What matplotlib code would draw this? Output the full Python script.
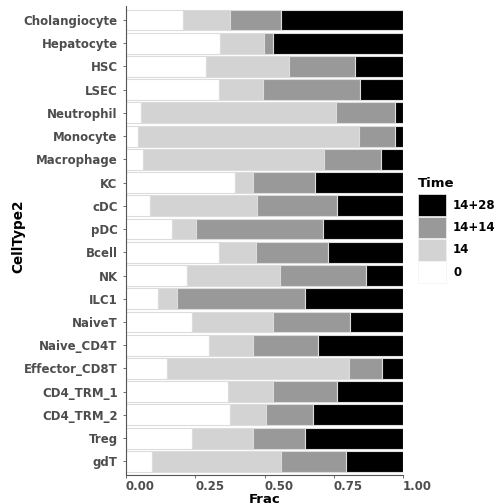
import matplotlib
matplotlib.use("Agg")
import matplotlib.pyplot as plt
from matplotlib.patches import Patch
import numpy as np

plt.rcParams['font.family'] = ['DejaVu Sans']

cell_types = ["Cholangiocyte", "Hepatocyte", "HSC", "LSEC", "Neutrophil", "Monocyte",
              "Macrophage", "KC", "cDC", "pDC", "Bcell", "NK", "ILC1", "NaiveT",
              "Naive_CD4T", "Effector_CD8T", "CD4_TRM_1", "CD4_TRM_2", "Treg", "gdT"]

# cumulative boundaries (end of 0, end of 14, end of 14+14)
t0 =    [0.207, 0.339, 0.289, 0.335, 0.055, 0.042, 0.063, 0.393, 0.087, 0.166,
         0.337, 0.219, 0.117, 0.240, 0.301, 0.149, 0.370, 0.377, 0.239, 0.093]
t14 =   [0.376, 0.499, 0.588, 0.494, 0.758, 0.841, 0.716, 0.458, 0.473, 0.251,
         0.470, 0.557, 0.184, 0.532, 0.458, 0.805, 0.532, 0.505, 0.458, 0.561]
t1414 = [0.558, 0.529, 0.826, 0.843, 0.970, 0.971, 0.920, 0.682, 0.761, 0.710,
         0.730, 0.865, 0.648, 0.808, 0.694, 0.924, 0.760, 0.676, 0.646, 0.796]

frac_0 = np.array(t0)
frac_14 = np.array(t14) - np.array(t0)
frac_1414 = np.array(t1414) - np.array(t14)
frac_1428 = 1 - np.array(t1414)

levels = ["0", "14", "14+14", "14+28"]
colors = ["#ffffff", "#d3d3d3", "#999999", "#000000"]
series = [frac_0, frac_14, frac_1414, frac_1428]

fig = plt.figure(figsize=(5.0, 5.04), dpi=100)
ax = fig.add_axes([0.252, 0.057, 0.554, 0.931])

y = np.arange(len(cell_types))
left = np.zeros(len(cell_types))
for lev, col, vals in zip(levels, colors, series):
    ax.barh(y, vals, left=left, height=0.9, color=col, edgecolor="#dcdcdc",
            linewidth=0.8, label=lev)
    left = left + vals

ax.set_xlim(0, 1)
ax.set_ylim(len(cell_types) - 0.4, -0.6)
ax.set_yticks(y)
ax.set_yticklabels(cell_types)
ax.set_xticks([0, 0.25, 0.5, 0.75, 1.0])
ax.set_xticklabels(["0.00", "0.25", "0.50", "0.75", "1.00"])

for s in ["top", "right"]:
    ax.spines[s].set_visible(False)
for s in ["left", "bottom"]:
    ax.spines[s].set_color("#555555")
    ax.spines[s].set_linewidth(0.8)

ax.tick_params(axis="both", colors="#555555", length=2.5, width=0.6, labelsize=8.5)
ax.tick_params(axis="x", pad=1)
for lab in ax.get_yticklabels() + ax.get_xticklabels():
    lab.set_fontweight("bold")
    lab.set_color("#4d4d4d")
for lab in ax.get_xticklabels():
    lab.set_horizontalalignment("left")

ax.set_xlabel("Frac", fontsize=9.5, fontweight="bold", labelpad=0)
ax.xaxis.set_label_coords(0.5, -0.037)
ax.set_ylabel("CellType2", fontsize=9.8, fontweight="bold")
ax.yaxis.set_label_coords(-0.365, 0.51)

handles = [Patch(facecolor=c, edgecolor="#f2f2f2", linewidth=0.5) for c in colors][::-1]
labels = levels[::-1]
leg = fig.legend(handles, labels, title="Time", loc="upper left",
                 bbox_to_anchor=(0.826, 0.658), frameon=False,
                 handlelength=2.4, handleheight=2.45, labelspacing=0.05,
                 handletextpad=0.6, borderaxespad=0,
                 prop={"weight": "bold", "size": 8.5})
leg.get_title().set_fontweight("bold")
leg.get_title().set_fontsize(9.5)
leg._legend_box.align = "left"
leg._legend_box.sep = 3

fig.savefig("out.png", dpi=100)
